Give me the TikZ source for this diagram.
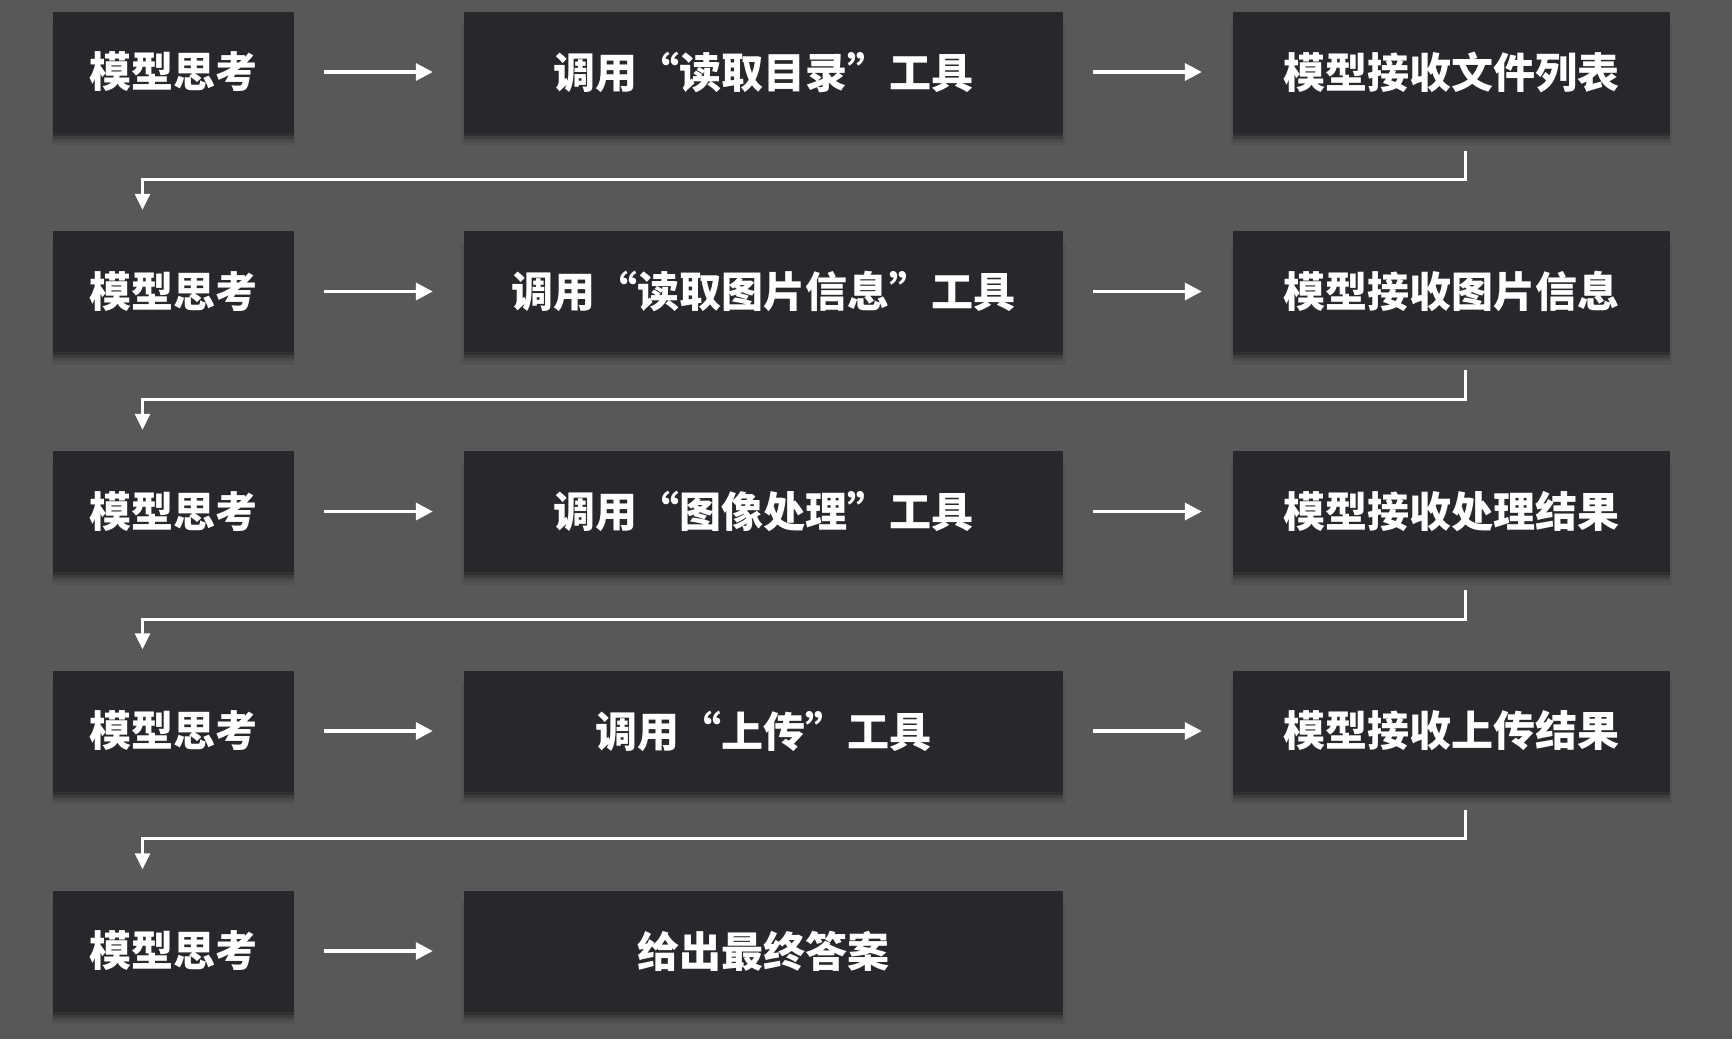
\documentclass[tikz,border=0pt]{standalone}
\usepackage{fontspec}
\newfontfamily\cjk{Noto Sans CJK SC}
\usetikzlibrary{arrows.meta,calc,shadows}
\definecolor{bgc}{RGB}{88,88,88}
\definecolor{boxc}{RGB}{39,40,44}
\tikzset{
  softshadow/.style={
    drop shadow={shadow xshift=0pt, shadow yshift=-3pt, opacity=0.22, fill=black},
    drop shadow={shadow xshift=0pt, shadow yshift=-6pt, opacity=0.16, fill=black},
    drop shadow={shadow xshift=0pt, shadow yshift=-9pt, opacity=0.10, fill=black},
    drop shadow={shadow xshift=0pt, shadow yshift=-12pt, shadow scale=1.01, opacity=0.06, fill=black}},
  box/.style={fill=boxc, text=white, minimum height=121pt, inner sep=0pt,
    font=\cjk\bfseries\fontsize{42}{42}\selectfont, softshadow},
  c1/.style={box, minimum width=241pt},
  c2/.style={box, minimum width=599pt},
  c3/.style={box, minimum width=437pt},
  harrow/.style={draw=white, line width=3.5pt, -{Triangle[length=17pt,width=17pt]}, shorten <=30pt, shorten >=31pt},
  conn/.style={draw=white, line width=3pt, -{Triangle[length=16pt,width=15pt]}}
}
\begin{document}
\begin{tikzpicture}[x=1pt,y=-1pt]
\fill[bgc] (0,0) rectangle (1732,1039);
\useasboundingbox (0,0) rectangle (1732,1039);
% row 1
\node[c1] (a1) at (173.5,72) {模型思考};
\node[c2] (a2) at (763.5,72) {调用“读取目录”工具};
\node[c3] (a3) at (1451.5,72) {模型接收文件列表};
% row 2
\node[c1] (b1) at (173.5,291.5) {模型思考};
\node[c2] (b2) at (763.5,291.5) {调用“读取图片信息”工具};
\node[c3] (b3) at (1451.5,291.5) {模型接收图片信息};
% row 3
\node[c1] (d1) at (173.5,511.5) {模型思考};
\node[c2] (d2) at (763.5,511.5) {调用“图像处理”工具};
\node[c3] (d3) at (1451.5,511.5) {模型接收处理结果};
% row 4
\node[c1] (e1) at (173.5,731) {模型思考};
\node[c2] (e2) at (763.5,731) {调用“上传”工具};
\node[c3] (e3) at (1451.5,731) {模型接收上传结果};
% row 5
\node[c1] (f1) at (173.5,951) {模型思考};
\node[c2] (f2) at (763.5,951) {给出最终答案};
% horizontal arrows
\foreach \r in {a,b,d,e}{
  \draw[harrow] (\r1.east) -- (\r2.west);
  \draw[harrow] (\r2.east) -- (\r3.west);
}
\draw[harrow] (f1.east) -- (f2.west);
% connectors
\draw[conn] ($(a3.south)+(13.5,18)$) -- ++(0,29) -| ($(b1.north)+(-31,-21)$);
\draw[conn] ($(b3.south)+(13.5,18)$) -- ++(0,29) -| ($(d1.north)+(-31,-21)$);
\draw[conn] ($(d3.south)+(13.5,18)$) -- ++(0,29) -| ($(e1.north)+(-31,-21)$);
\draw[conn] ($(e3.south)+(13.5,18)$) -- ++(0,29) -| ($(f1.north)+(-31,-21)$);
\end{tikzpicture}
\end{document}
